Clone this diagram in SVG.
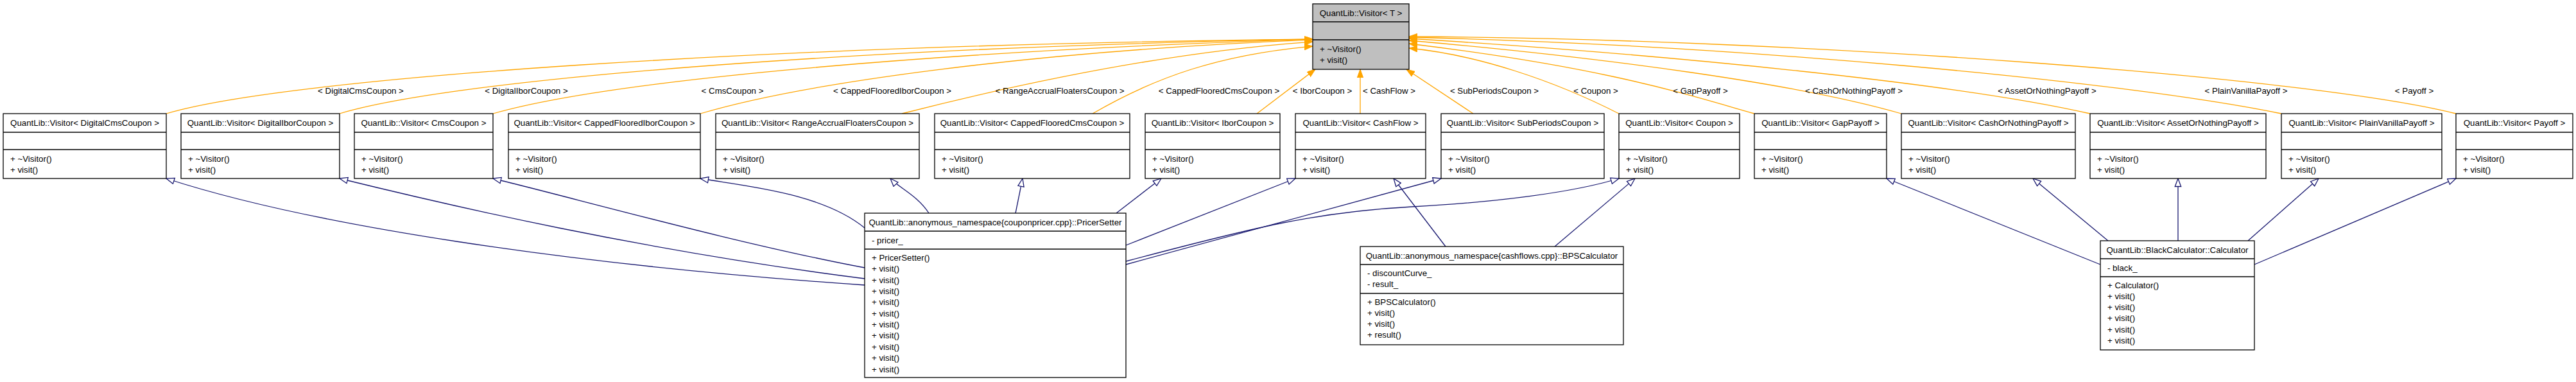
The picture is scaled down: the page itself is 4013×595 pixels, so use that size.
<svg xmlns="http://www.w3.org/2000/svg" width="4013" height="595" viewBox="0 0 4013 595">
<defs>
<style>
text{font-family:"Liberation Sans",Arial,Helvetica,sans-serif;font-size:13.3px;fill:#000}
.t{text-anchor:middle}
.box{fill:#fff;stroke:#000;stroke-width:1.3}
.root{fill:#bfbfbf;stroke:#000;stroke-width:1.3}
.div{stroke:#000;stroke-width:1.3}
.o{fill:none;stroke:#ffa500;stroke-width:1.3;marker-end:url(#ah)}
.b{fill:none;stroke:#191970;stroke-width:1.3;marker-end:url(#eh)}
.lbl{text-anchor:middle}
</style>
<marker id="ah" markerUnits="userSpaceOnUse" markerWidth="14" markerHeight="10" refX="13" refY="4.7" orient="auto">
<path d="M0,0 L13,4.7 L0,9.4 z" fill="#ffa500" stroke="#ffa500" stroke-width="1"/>
</marker>
<marker id="eh" markerUnits="userSpaceOnUse" markerWidth="15" markerHeight="12" refX="13.5" refY="5.7" orient="auto">
<path d="M1,1 L13.5,5.7 L1,10.4 z" fill="#fff" stroke="#191970" stroke-width="1.3"/>
</marker>
</defs>
<rect width="4013" height="595" fill="#fff"/>

<g id="connectors">
<!-- orange template edges -->
<path class="o" d="M259,177 C450,120 1200,70 2045,61"/>
<path class="o" d="M529,177 C700,125 1300,75 2045,61"/>
<path class="o" d="M768,177 C950,125 1450,80 2045,61"/>
<path class="o" d="M1091,177 C1250,130 1600,80 2045,62"/>
<path class="o" d="M1405,177 C1550,140 1800,82 2045,65"/>
<path class="o" d="M1702,177 C1800,120 1900,85 2045,72"/>
<path class="o" d="M1958,177 L2049,108"/>
<path class="o" d="M2119,177 L2119,108"/>
<path class="o" d="M2295,177 L2191,108"/>
<path class="o" d="M2522,177 C2420,125 2300,85 2195,75"/>
<path class="o" d="M2733,177 C2620,145 2500,105 2195,68"/>
<path class="o" d="M2962,177 C2800,130 2500,90 2195,63"/>
<path class="o" d="M3256,177 C3050,130 2600,85 2195,60"/>
<path class="o" d="M3554,177 C3300,125 2700,70 2195,58"/>
<path class="o" d="M3826,177 C3600,120 2800,60 2195,57"/>
<text class="lbl" x="562" y="146">&lt; DigitalCmsCoupon &gt;</text>
<text class="lbl" x="820" y="146">&lt; DigitalIborCoupon &gt;</text>
<text class="lbl" x="1141" y="146">&lt; CmsCoupon &gt;</text>
<text class="lbl" x="1390" y="146">&lt; CappedFlooredIborCoupon &gt;</text>
<text class="lbl" x="1651" y="146">&lt; RangeAccrualFloatersCoupon &gt;</text>
<text class="lbl" x="1899" y="146">&lt; CappedFlooredCmsCoupon &gt;</text>
<text class="lbl" x="2060" y="146">&lt; IborCoupon &gt;</text>
<text class="lbl" x="2164" y="146">&lt; CashFlow &gt;</text>
<text class="lbl" x="2328" y="146">&lt; SubPeriodsCoupon &gt;</text>
<text class="lbl" x="2486" y="146">&lt; Coupon &gt;</text>
<text class="lbl" x="2649" y="146">&lt; GapPayoff &gt;</text>
<text class="lbl" x="2888" y="146">&lt; CashOrNothingPayoff &gt;</text>
<text class="lbl" x="3189" y="146">&lt; AssetOrNothingPayoff &gt;</text>
<text class="lbl" x="3499" y="146">&lt; PlainVanillaPayoff &gt;</text>
<text class="lbl" x="3761" y="146">&lt; Payoff &gt;</text>
<!-- inheritance edges -->
<path class="b" d="M1347,444 C880,412 480,350 259,278"/>
<path class="b" d="M1347,434 C1000,390 700,320 529,278"/>
<path class="b" d="M1347,417 C1150,380 900,310 768,278"/>
<path class="b" d="M1347,355 C1280,300 1160,290 1091,278"/>
<path class="b" d="M1447,332 C1430,305 1400,292 1387,278"/>
<path class="b" d="M1582,332 L1593,278"/>
<path class="b" d="M1739,332 L1809,278"/>
<path class="b" d="M1754,382 L2018,278"/>
<path class="b" d="M1754,412 L2245,278"/>
<path class="b" d="M1754,407 C1950,355 2050,330 2200,322 C2330,315 2450,300 2522,278"/>
<path class="b" d="M2252,384 L2171,278"/>
<path class="b" d="M2422,384 L2547,278"/>
<path class="b" d="M3272,412 L2939,278"/>
<path class="b" d="M3284,375 L3167,278"/>
<path class="b" d="M3393,375 L3393,278"/>
<path class="b" d="M3502,375 L3612,278"/>
<path class="b" d="M3512,412 L3826,278"/>
</g>

<g id="visitor_T">
<rect class="root" x="2045" y="6" width="150" height="102"/>
<line class="div" x1="2045" y1="34" x2="2195" y2="34"/>
<line class="div" x1="2045" y1="62" x2="2195" y2="62"/>
<text class="t" x="2120" y="25">QuantLib::Visitor&lt; T &gt;</text>
<text x="2056" y="80.5">+ ~Visitor()</text>
<text x="2056" y="97.5">+ visit()</text>
</g>

<g id="v_DigitalCmsCoupon">
<rect class="box" x="5" y="177" width="254" height="101"/>
<line class="div" x1="5" y1="206" x2="259" y2="206"/><line class="div" x1="5" y1="233" x2="259" y2="233"/>
<text class="t" x="132" y="195.5">QuantLib::Visitor&lt; DigitalCmsCoupon &gt;</text>
<text x="16" y="251.5">+ ~Visitor()</text><text x="16" y="268.8">+ visit()</text>
</g>
<g id="v_DigitalIborCoupon">
<rect class="box" x="282" y="177" width="247" height="101"/>
<line class="div" x1="282" y1="206" x2="529" y2="206"/><line class="div" x1="282" y1="233" x2="529" y2="233"/>
<text class="t" x="405.5" y="195.5">QuantLib::Visitor&lt; DigitalIborCoupon &gt;</text>
<text x="293" y="251.5">+ ~Visitor()</text><text x="293" y="268.8">+ visit()</text>
</g>
<g id="v_CmsCoupon">
<rect class="box" x="552" y="177" width="216" height="101"/>
<line class="div" x1="552" y1="206" x2="768" y2="206"/><line class="div" x1="552" y1="233" x2="768" y2="233"/>
<text class="t" x="660" y="195.5">QuantLib::Visitor&lt; CmsCoupon &gt;</text>
<text x="563" y="251.5">+ ~Visitor()</text><text x="563" y="268.8">+ visit()</text>
</g>
<g id="v_CappedFlooredIborCoupon">
<rect class="box" x="792" y="177" width="299" height="101"/>
<line class="div" x1="792" y1="206" x2="1091" y2="206"/><line class="div" x1="792" y1="233" x2="1091" y2="233"/>
<text class="t" x="941.5" y="195.5">QuantLib::Visitor&lt; CappedFlooredIborCoupon &gt;</text>
<text x="803" y="251.5">+ ~Visitor()</text><text x="803" y="268.8">+ visit()</text>
</g>
<g id="v_RangeAccrualFloatersCoupon">
<rect class="box" x="1115" y="177" width="317" height="101"/>
<line class="div" x1="1115" y1="206" x2="1432" y2="206"/><line class="div" x1="1115" y1="233" x2="1432" y2="233"/>
<text class="t" x="1273.5" y="195.5">QuantLib::Visitor&lt; RangeAccrualFloatersCoupon &gt;</text>
<text x="1126" y="251.5">+ ~Visitor()</text><text x="1126" y="268.8">+ visit()</text>
</g>
<g id="v_CappedFlooredCmsCoupon">
<rect class="box" x="1456" y="177" width="304" height="101"/>
<line class="div" x1="1456" y1="206" x2="1760" y2="206"/><line class="div" x1="1456" y1="233" x2="1760" y2="233"/>
<text class="t" x="1608" y="195.5">QuantLib::Visitor&lt; CappedFlooredCmsCoupon &gt;</text>
<text x="1467" y="251.5">+ ~Visitor()</text><text x="1467" y="268.8">+ visit()</text>
</g>
<g id="v_IborCoupon">
<rect class="box" x="1784" y="177" width="210" height="101"/>
<line class="div" x1="1784" y1="206" x2="1994" y2="206"/><line class="div" x1="1784" y1="233" x2="1994" y2="233"/>
<text class="t" x="1889" y="195.5">QuantLib::Visitor&lt; IborCoupon &gt;</text>
<text x="1795" y="251.5">+ ~Visitor()</text><text x="1795" y="268.8">+ visit()</text>
</g>
<g id="v_CashFlow">
<rect class="box" x="2018" y="177" width="203" height="101"/>
<line class="div" x1="2018" y1="206" x2="2221" y2="206"/><line class="div" x1="2018" y1="233" x2="2221" y2="233"/>
<text class="t" x="2119.5" y="195.5">QuantLib::Visitor&lt; CashFlow &gt;</text>
<text x="2029" y="251.5">+ ~Visitor()</text><text x="2029" y="268.8">+ visit()</text>
</g>
<g id="v_SubPeriodsCoupon">
<rect class="box" x="2245" y="177" width="254" height="101"/>
<line class="div" x1="2245" y1="206" x2="2499" y2="206"/><line class="div" x1="2245" y1="233" x2="2499" y2="233"/>
<text class="t" x="2372" y="195.5">QuantLib::Visitor&lt; SubPeriodsCoupon &gt;</text>
<text x="2256" y="251.5">+ ~Visitor()</text><text x="2256" y="268.8">+ visit()</text>
</g>
<g id="v_Coupon">
<rect class="box" x="2522" y="177" width="188" height="101"/>
<line class="div" x1="2522" y1="206" x2="2710" y2="206"/><line class="div" x1="2522" y1="233" x2="2710" y2="233"/>
<text class="t" x="2616" y="195.5">QuantLib::Visitor&lt; Coupon &gt;</text>
<text x="2533" y="251.5">+ ~Visitor()</text><text x="2533" y="268.8">+ visit()</text>
</g>
<g id="v_GapPayoff">
<rect class="box" x="2733" y="177" width="206" height="101"/>
<line class="div" x1="2733" y1="206" x2="2939" y2="206"/><line class="div" x1="2733" y1="233" x2="2939" y2="233"/>
<text class="t" x="2836" y="195.5">QuantLib::Visitor&lt; GapPayoff &gt;</text>
<text x="2744" y="251.5">+ ~Visitor()</text><text x="2744" y="268.8">+ visit()</text>
</g>
<g id="v_CashOrNothingPayoff">
<rect class="box" x="2962" y="177" width="271" height="101"/>
<line class="div" x1="2962" y1="206" x2="3233" y2="206"/><line class="div" x1="2962" y1="233" x2="3233" y2="233"/>
<text class="t" x="3097.5" y="195.5">QuantLib::Visitor&lt; CashOrNothingPayoff &gt;</text>
<text x="2973" y="251.5">+ ~Visitor()</text><text x="2973" y="268.8">+ visit()</text>
</g>
<g id="v_AssetOrNothingPayoff">
<rect class="box" x="3256" y="177" width="274" height="101"/>
<line class="div" x1="3256" y1="206" x2="3530" y2="206"/><line class="div" x1="3256" y1="233" x2="3530" y2="233"/>
<text class="t" x="3393" y="195.5">QuantLib::Visitor&lt; AssetOrNothingPayoff &gt;</text>
<text x="3267" y="251.5">+ ~Visitor()</text><text x="3267" y="268.8">+ visit()</text>
</g>
<g id="v_PlainVanillaPayoff">
<rect class="box" x="3554" y="177" width="250" height="101"/>
<line class="div" x1="3554" y1="206" x2="3804" y2="206"/><line class="div" x1="3554" y1="233" x2="3804" y2="233"/>
<text class="t" x="3679" y="195.5">QuantLib::Visitor&lt; PlainVanillaPayoff &gt;</text>
<text x="3565" y="251.5">+ ~Visitor()</text><text x="3565" y="268.8">+ visit()</text>
</g>
<g id="v_Payoff">
<rect class="box" x="3826" y="177" width="182" height="101"/>
<line class="div" x1="3826" y1="206" x2="4008" y2="206"/><line class="div" x1="3826" y1="233" x2="4008" y2="233"/>
<text class="t" x="3917" y="195.5">QuantLib::Visitor&lt; Payoff &gt;</text>
<text x="3837" y="251.5">+ ~Visitor()</text><text x="3837" y="268.8">+ visit()</text>
</g>

<g id="PricerSetter">
<rect class="box" x="1347" y="332" width="407" height="256"/>
<line class="div" x1="1347" y1="360" x2="1754" y2="360"/><line class="div" x1="1347" y1="388" x2="1754" y2="388"/>
<text class="t" x="1550.5" y="350.5">QuantLib::anonymous_namespace{couponpricer.cpp}::PricerSetter</text>
<text x="1358" y="378.5">- pricer_</text>
<text x="1358" y="406">+ PricerSetter()</text>
<text x="1358" y="423.3">+ visit()</text>
<text x="1358" y="440.7">+ visit()</text>
<text x="1358" y="458">+ visit()</text>
<text x="1358" y="475.4">+ visit()</text>
<text x="1358" y="492.7">+ visit()</text>
<text x="1358" y="510.1">+ visit()</text>
<text x="1358" y="527.4">+ visit()</text>
<text x="1358" y="544.8">+ visit()</text>
<text x="1358" y="562.1">+ visit()</text>
<text x="1358" y="579.5">+ visit()</text>
</g>

<g id="BPSCalculator">
<rect class="box" x="2119" y="384" width="410" height="153"/>
<line class="div" x1="2119" y1="412" x2="2529" y2="412"/><line class="div" x1="2119" y1="457" x2="2529" y2="457"/>
<text class="t" x="2324" y="402.5">QuantLib::anonymous_namespace{cashflows.cpp}::BPSCalculator</text>
<text x="2130" y="429.5">- discountCurve_</text>
<text x="2130" y="446.8">- result_</text>
<text x="2130" y="474.5">+ BPSCalculator()</text>
<text x="2130" y="491.8">+ visit()</text>
<text x="2130" y="509.1">+ visit()</text>
<text x="2130" y="526.4">+ result()</text>
</g>

<g id="Calculator">
<rect class="box" x="3272" y="375" width="240" height="170"/>
<line class="div" x1="3272" y1="403" x2="3512" y2="403"/><line class="div" x1="3272" y1="431" x2="3512" y2="431"/>
<text class="t" x="3392" y="393.7">QuantLib::BlackCalculator::Calculator</text>
<text x="3283" y="421.5">- black_</text>
<text x="3283" y="448.5">+ Calculator()</text>
<text x="3283" y="465.8">+ visit()</text>
<text x="3283" y="483.1">+ visit()</text>
<text x="3283" y="500.4">+ visit()</text>
<text x="3283" y="517.7">+ visit()</text>
<text x="3283" y="535">+ visit()</text>
</g>
</svg>
